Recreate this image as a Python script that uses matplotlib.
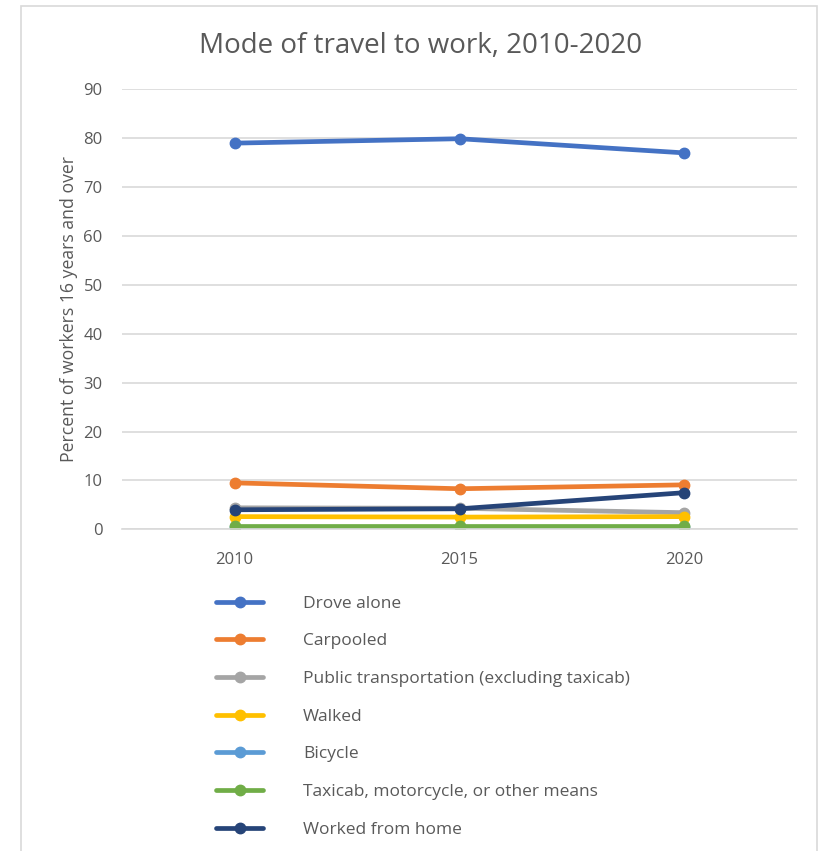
import matplotlib
matplotlib.use("Agg")
import matplotlib.pyplot as plt
from matplotlib.patches import Rectangle

years = ["2010", "2015", "2020"]
series_names = [
    "Drove alone",
    "Carpooled",
    "Public transportation (excluding taxicab)",
    "Walked",
    "Bicycle",
    "Taxicab, motorcycle, or other means",
    "Worked from home",
]
drove_alone = [79.0, 79.9, 77.0]
carpooled = [9.5, 8.3, 9.1]
public_transport = [4.4, 4.3, 3.4]
walked = [2.6, 2.5, 2.6]
bicycle = [0.4, 0.4, 0.4]
taxicab_other = [0.6, 0.6, 0.6]
worked_from_home = [4.0, 4.2, 7.5]

values = [drove_alone, carpooled, public_transport, walked,
          bicycle, taxicab_other, worked_from_home]
colors = ["#4472C4", "#ED7D31", "#A5A5A5", "#FFC000",
          "#5B9BD5", "#70AD47", "#264478"]

text_color = "#595959"
plt.rcParams["font.family"] = ["Open Sans", "DejaVu Sans"]

fig = plt.figure(figsize=(8.25, 8.51), dpi=100)
ax = fig.add_axes([0.148, 0.378, 0.818, 0.517])

x = range(len(years))
for name, vals, color in zip(series_names, values, colors):
    ax.plot(x, vals, color=color, linewidth=3.4, marker="o",
            markersize=7.5, label=name, solid_capstyle="round")

ax.set_xlim(-0.5, 2.5)
ax.set_ylim(0, 90)
ax.set_yticks(range(0, 91, 10))
ax.set_xticks(list(x))
ax.set_xticklabels(years)
ax.yaxis.grid(True, color="#D9D9D9", linewidth=1.2)
ax.set_axisbelow(True)
for side in ["top", "right", "left"]:
    ax.spines[side].set_visible(False)
ax.spines["bottom"].set_color("#D9D9D9")
ax.spines["bottom"].set_linewidth(1.2)
ax.tick_params(axis="y", length=0, labelsize=12, colors=text_color, pad=14)
ax.tick_params(axis="x", length=0, labelsize=12, colors=text_color, pad=16)
ax.set_ylabel("Percent of workers 16 years and over", fontsize=12.7,
              color=text_color, labelpad=4)

fig.text(0.51, 1 - 46 / 851, "Mode of travel to work, 2010-2020", fontsize=20,
         color=text_color, ha="center", va="center")

leg = ax.legend(loc="upper left", bbox_to_anchor=(0.243, 0.3185),
                bbox_transform=fig.transFigure, frameon=False,
                fontsize=12.5, handlelength=2.7, handletextpad=2.3,
                labelspacing=1.24, labelcolor=text_color)

fig.patches.append(Rectangle((21 / 825, -0.05), (817 - 21) / 825, 1.05 - 6 / 851,
                             transform=fig.transFigure, fill=False,
                             edgecolor="#D9D9D9", linewidth=1.2))

fig.savefig("out.png", dpi=100)
